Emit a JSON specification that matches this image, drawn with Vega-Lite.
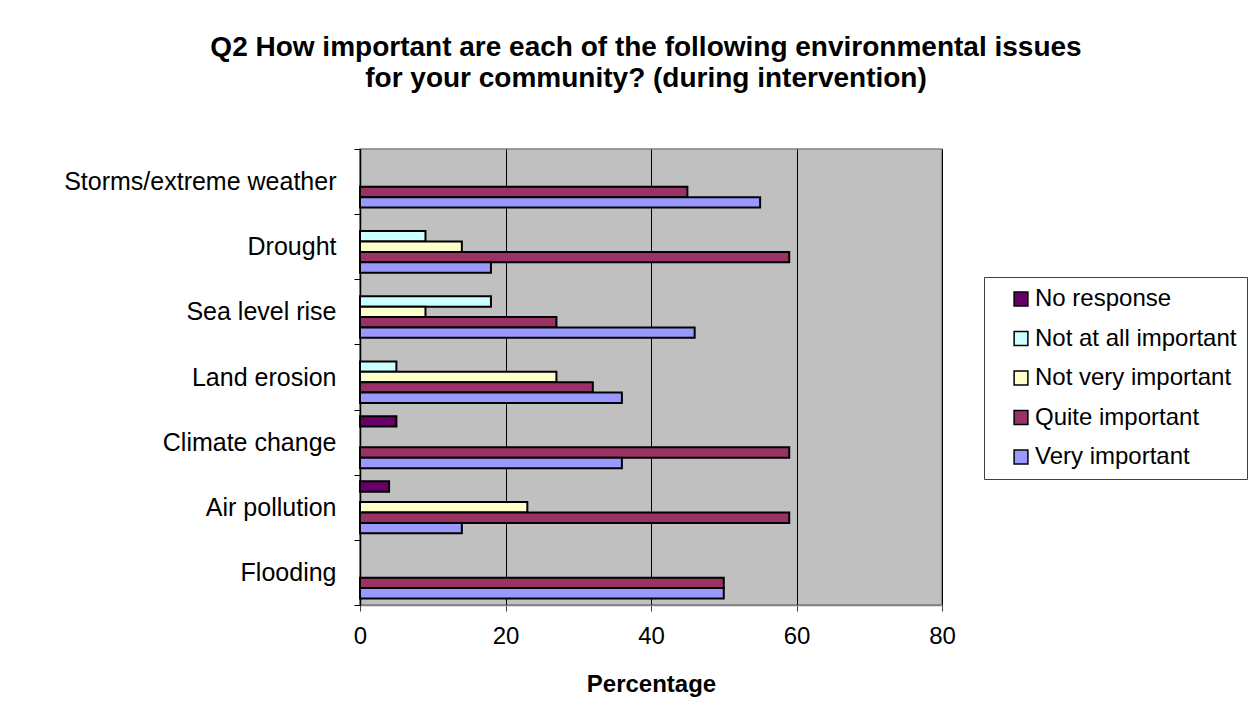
{
  "$schema": "https://vega.github.io/schema/vega-lite/v6.json",
  "width": 582,
  "height": 456,
  "autosize": {"type": "none"},
  "padding": {"left": 360, "top": 149, "right": 316, "bottom": 110},
  "background": "white",
  "title": {
    "text": ["Q2 How important are each of the following environmental issues", "for your community? (during intervention)"],
    "font": "Liberation Sans",
    "fontSize": 28,
    "fontWeight": "bold",
    "color": "black",
    "lineHeight": 31,
    "anchor": "middle",
    "dx": -5,
    "offset": 44
  },
  "config": {
    "font": "Liberation Sans",
    "view": {"fill": "#C0C0C0", "stroke": "#808080", "strokeWidth": 1.5}
  },
  "data": {
    "values": [
      {"issue": "Storms/extreme weather", "response": "Quite important", "pct": 45},
      {"issue": "Storms/extreme weather", "response": "Very important", "pct": 55},
      {"issue": "Drought", "response": "Not at all important", "pct": 9},
      {"issue": "Drought", "response": "Not very important", "pct": 14},
      {"issue": "Drought", "response": "Quite important", "pct": 59},
      {"issue": "Drought", "response": "Very important", "pct": 18},
      {"issue": "Sea level rise", "response": "Not at all important", "pct": 18},
      {"issue": "Sea level rise", "response": "Not very important", "pct": 9},
      {"issue": "Sea level rise", "response": "Quite important", "pct": 27},
      {"issue": "Sea level rise", "response": "Very important", "pct": 46},
      {"issue": "Land erosion", "response": "Not at all important", "pct": 5},
      {"issue": "Land erosion", "response": "Not very important", "pct": 27},
      {"issue": "Land erosion", "response": "Quite important", "pct": 32},
      {"issue": "Land erosion", "response": "Very important", "pct": 36},
      {"issue": "Climate change", "response": "No response", "pct": 5},
      {"issue": "Climate change", "response": "Quite important", "pct": 59},
      {"issue": "Climate change", "response": "Very important", "pct": 36},
      {"issue": "Air pollution", "response": "No response", "pct": 4},
      {"issue": "Air pollution", "response": "Not very important", "pct": 23},
      {"issue": "Air pollution", "response": "Quite important", "pct": 59},
      {"issue": "Air pollution", "response": "Very important", "pct": 14},
      {"issue": "Flooding", "response": "Quite important", "pct": 50},
      {"issue": "Flooding", "response": "Very important", "pct": 50}
    ]
  },
  "mark": {"type": "bar", "stroke": "black", "strokeWidth": 2},
  "encoding": {
    "y": {
      "field": "issue",
      "type": "nominal",
      "sort": ["Storms/extreme weather", "Drought", "Sea level rise", "Land erosion", "Climate change", "Air pollution", "Flooding"],
      "scale": {"paddingInner": 0, "paddingOuter": 0},
      "axis": {
        "title": null,
        "tickBand": "extent",
        "tickSize": 6,
        "tickColor": "black",
        "domainColor": "black",
        "domainWidth": 1.5,
        "labelFontSize": 25,
        "labelColor": "black",
        "labelPadding": 18,
        "labelLimit": 400
      }
    },
    "yOffset": {
      "field": "response",
      "type": "nominal",
      "sort": ["No response", "Not at all important", "Not very important", "Quite important", "Very important"],
      "scale": {"paddingInner": 0, "paddingOuter": 0.63}
    },
    "x": {
      "field": "pct",
      "type": "quantitative",
      "scale": {"domain": [0, 80]},
      "axis": {
        "title": "Percentage",
        "titleFontSize": 24,
        "titleFontWeight": "bold",
        "titleColor": "black",
        "titlePadding": 24,
        "values": [0, 20, 40, 60, 80],
        "labelFlush": false,
        "grid": true,
        "gridColor": "black",
        "gridWidth": 1,
        "domainColor": "#808080",
        "domainWidth": 1.5,
        "tickColor": "#404040",
        "tickSize": 6,
        "labelFontSize": 24,
        "labelColor": "black",
        "labelPadding": 13
      }
    },
    "color": {
      "field": "response",
      "type": "nominal",
      "scale": {
        "domain": ["No response", "Not at all important", "Not very important", "Quite important", "Very important"],
        "range": ["#660066", "#CCFFFF", "#FFFFCC", "#993366", "#9999FF"]
      },
      "legend": {
        "title": null,
        "orient": "none",
        "legendX": 624,
        "legendY": 128,
        "symbolType": "square",
        "symbolSize": 190,
        "symbolStrokeColor": "black",
        "symbolStrokeWidth": 1.5,
        "symbolOpacity": 1,
        "symbolOffset": 15,
        "labelFontSize": 24,
        "labelColor": "black",
        "labelOffset": 2,
        "labelLimit": 300,
        "rowPadding": 15.5,
        "padding": 10,
        "strokeColor": "#404040",
        "fillColor": "white"
      }
    }
  }
}
